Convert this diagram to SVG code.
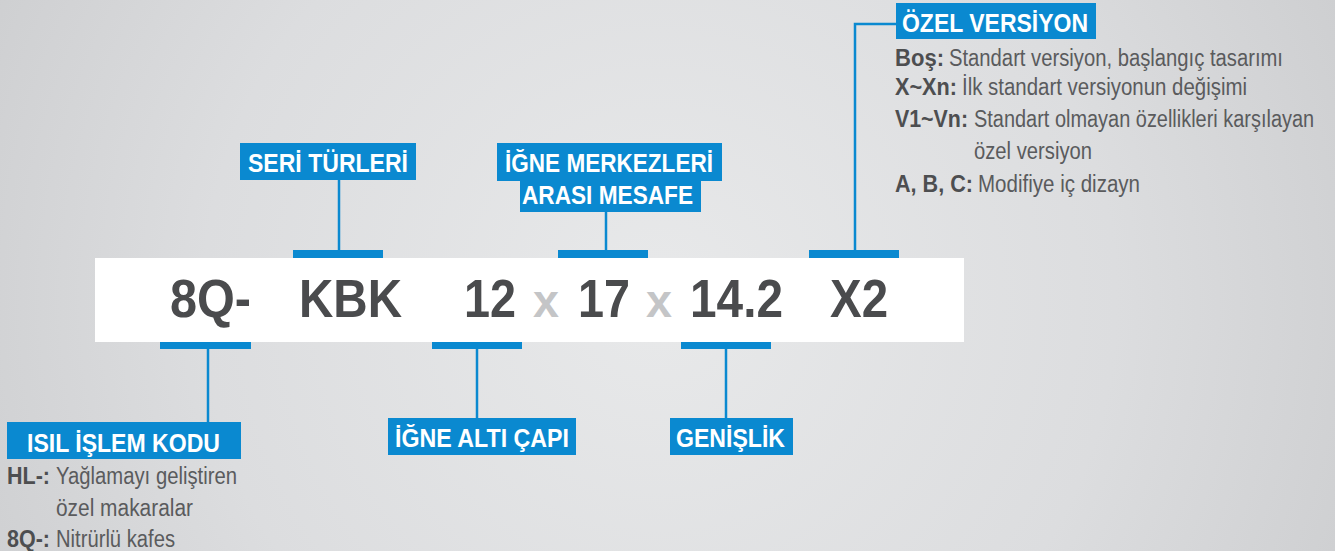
<svg xmlns="http://www.w3.org/2000/svg" width="1335" height="551" viewBox="0 0 1335 551">
<defs>
<radialGradient id="bg" cx="660" cy="300" r="760" gradientUnits="userSpaceOnUse">
<stop offset="0" stop-color="#e8e9ea"/>
<stop offset="0.6" stop-color="#dcdddf"/>
<stop offset="1" stop-color="#cdced0"/>
</radialGradient>
<style>
.lbl{fill:#0a89d0}
.lt{font-family:"Liberation Sans",Arial,sans-serif;font-weight:bold;font-size:26px;fill:#ffffff}
.bar{fill:#0a89d0}
.con{stroke:#0a89d0;stroke-width:2.5;fill:none}
.big{font-family:"Liberation Sans",Arial,sans-serif;font-weight:bold;font-size:53px;fill:#4a4b4d}
.x{font-family:"Liberation Sans",Arial,sans-serif;font-weight:bold;font-size:46px;fill:#c4c5c7}
.bk{font-family:"Liberation Sans",Arial,sans-serif;font-weight:bold;font-size:23px;fill:#4d4e50}
.rg{font-family:"Liberation Sans",Arial,sans-serif;font-size:23px;fill:#5a5b5d}
</style>
</defs>
<rect x="0" y="0" width="1335" height="551" fill="url(#bg)"/>
<g id="code">
<rect x="95" y="258" width="869" height="84" fill="#ffffff"/>
<text class="big" x="170" y="317" textLength="81" lengthAdjust="spacingAndGlyphs">8Q-</text>
<text class="big" x="299" y="317" textLength="103" lengthAdjust="spacingAndGlyphs">KBK</text>
<text class="big" x="464" y="317" textLength="52" lengthAdjust="spacingAndGlyphs">12</text>
<text class="x" x="533" y="317" textLength="26" lengthAdjust="spacingAndGlyphs">x</text>
<text class="big" x="578" y="317" textLength="52" lengthAdjust="spacingAndGlyphs">17</text>
<text class="x" x="646" y="317" textLength="26" lengthAdjust="spacingAndGlyphs">x</text>
<text class="big" x="690" y="317" textLength="93" lengthAdjust="spacingAndGlyphs">14.2</text>
<text class="big" x="830" y="317" textLength="58" lengthAdjust="spacingAndGlyphs">X2</text>
</g>
<g id="connectors">
<rect class="bar" x="293" y="250" width="90" height="8"/>
<rect class="bar" x="558" y="250" width="90" height="8"/>
<rect class="bar" x="809" y="250" width="90" height="8"/>
<rect class="bar" x="160" y="342" width="91" height="7"/>
<rect class="bar" x="432" y="342" width="90" height="7"/>
<rect class="bar" x="681" y="342" width="90" height="7"/>
<line class="con" x1="339" y1="180" x2="339" y2="250"/>
<line class="con" x1="606" y1="212" x2="606" y2="250"/>
<polyline class="con" points="855,250 855,24 896,24"/>
<line class="con" x1="208" y1="349" x2="208" y2="422"/>
<line class="con" x1="477" y1="349" x2="477" y2="418"/>
<line class="con" x1="726" y1="349" x2="726" y2="418"/>
</g>
<g id="seri">
<rect class="lbl" x="240" y="143" width="176" height="37"/>
<text class="lt" x="248" y="172" textLength="160" lengthAdjust="spacingAndGlyphs">SERİ TÜRLERİ</text>
</g>
<g id="igne-merkez">
<rect class="lbl" x="497" y="143" width="225" height="38"/>
<rect class="lbl" x="520" y="180" width="181" height="32"/>
<text class="lt" x="505" y="172" textLength="208" lengthAdjust="spacingAndGlyphs">İĞNE MERKEZLERİ</text>
<text class="lt" x="522" y="204" textLength="171" lengthAdjust="spacingAndGlyphs">ARASI MESAFE</text>
</g>
<g id="ozel">
<rect class="lbl" x="896" y="3" width="200" height="36"/>
<text class="lt" x="902" y="32" textLength="186" lengthAdjust="spacingAndGlyphs">ÖZEL VERSİYON</text>
<text class="bk" x="895" y="66" textLength="49" lengthAdjust="spacingAndGlyphs">Boş:</text>
<text class="rg" x="949" y="66" textLength="334" lengthAdjust="spacingAndGlyphs">Standart versiyon, başlangıç tasarımı</text>
<text class="bk" x="895" y="95" textLength="62" lengthAdjust="spacingAndGlyphs">X~Xn:</text>
<text class="rg" x="962" y="95" textLength="285" lengthAdjust="spacingAndGlyphs">İlk standart versiyonun değişimi</text>
<text class="bk" x="895" y="127" textLength="73" lengthAdjust="spacingAndGlyphs">V1~Vn:</text>
<text class="rg" transform="translate(974,127) scale(0.87,1)" x="0" y="0" textLength="391" lengthAdjust="spacingAndGlyphs">Standart olmayan özellikleri karşılayan</text>
<text class="rg" x="974" y="159" textLength="118" lengthAdjust="spacingAndGlyphs">özel versiyon</text>
<text class="bk" x="895" y="192" textLength="78" lengthAdjust="spacingAndGlyphs">A, B, C:</text>
<text class="rg" x="978" y="192" textLength="162" lengthAdjust="spacingAndGlyphs">Modifiye iç dizayn</text>
</g>
<g id="isil">
<rect class="lbl" x="7" y="422" width="234" height="37"/>
<text class="lt" x="27" y="452" textLength="193" lengthAdjust="spacingAndGlyphs">ISIL İŞLEM KODU</text>
<text class="bk" x="7" y="484" textLength="43" lengthAdjust="spacingAndGlyphs">HL-:</text>
<text class="rg" x="56" y="484" textLength="181" lengthAdjust="spacingAndGlyphs">Yağlamayı geliştiren</text>
<text class="rg" x="56" y="516" textLength="137" lengthAdjust="spacingAndGlyphs">özel makaralar</text>
<text class="bk" x="7" y="547" textLength="43" lengthAdjust="spacingAndGlyphs">8Q-:</text>
<text class="rg" x="56" y="547" textLength="119" lengthAdjust="spacingAndGlyphs">Nitrürlü kafes</text>
</g>
<g id="igne-alti">
<rect class="lbl" x="388" y="418" width="188" height="37"/>
<text class="lt" x="395" y="447" textLength="174" lengthAdjust="spacingAndGlyphs">İĞNE ALTI ÇAPI</text>
</g>
<g id="genislik">
<rect class="lbl" x="670" y="418" width="123" height="37"/>
<text class="lt" x="676" y="447" textLength="109" lengthAdjust="spacingAndGlyphs">GENİŞLİK</text>
</g>
</svg>
